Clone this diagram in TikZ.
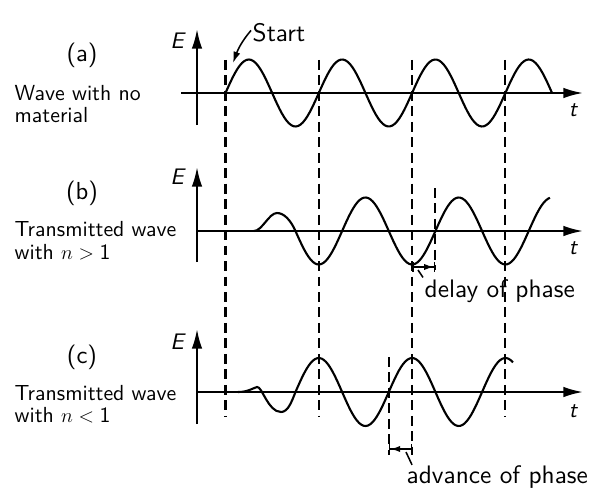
\documentclass[tikz,border=0pt]{standalone}
\usepackage{amsmath}
\usepackage{fontspec}
\setsansfont{lmsans10-regular.otf}[ItalicFont=lmsans10-oblique.otf]
\usepackage{tikz}
\usetikzlibrary{arrows.meta}
\usetikzlibrary{calc}

\begin{document}
\begin{tikzpicture}[x=0.025cm,y=-0.025cm,
      every node/.style={font=\sffamily\fontsize{15.5}{16}\selectfont,inner sep=1pt},
      wave/.style={line width=1.5pt},
      guide/.style={line width=1.5pt,dash pattern=on 7pt off 4pt},
      axis/.style={line width=1.5pt,-{Latex[length=14pt,width=7.5pt]}},
      pointer/.style={line width=1.1pt,-{Latex[length=8pt,width=5pt]}},
      gap/.style={line width=1.1pt,{Bar[width=7pt]}-{Latex[length=7pt,width=4.5pt] Bar[width=7pt]}},
      leader/.style={line width=1.1pt},
      panel/.style={font=\sffamily\fontsize{17.5}{20}\selectfont},
      desc/.style={anchor=base west,align=left},
      tag/.style={anchor=base west,font=\sffamily\fontsize{18}{20}\selectfont},
      axislabel/.style={font=\sffamily\itshape\fontsize{16}{18}\selectfont}]
      \useasboundingbox (0,0) rectangle (603,499);

      % left column
      \node[panel] (pa) at (82,55) {(a)};
      \node[desc] (da) at (13,122.5) {Wave with no\\material};
      \node[panel] (pb) at (82,193) {(b)};
      \node[desc] (db) at (13,259.3) {Transmitted wave\\with $n > \text{1}$};
      \node[panel] (pc) at (82,357) {(c)};
      \node[desc] (dc) at (13,422.7) {Transmitted wave\\with $n < \text{1}$};

      % axes
      \draw[axis] (197,125) -- (197,29);
      \draw[axis] (181,93) -- (583,93);
      \node[axislabel] (Ea) at (177,40.5) {E};
      \node[axislabel] (ta) at (573,110.5) {t};

      \draw[axis] (197,262) -- (197,167);
      \draw[axis] (197,231) -- (583,231);
      \node[axislabel] (Eb) at (177,177) {E};
      \node[axislabel] (tb) at (573,248.5) {t};

      \draw[axis] (197,424) -- (197,329);
      \draw[axis] (197,392) -- (583,392);
      \node[axislabel] (Ec) at (177,341.5) {E};
      \node[axislabel] (tc) at (573,411.5) {t};

      % dashed guides
      \draw[guide] (225.5,60) -- (225.5,417);
      \draw[guide] (318.8,60) -- (318.8,417);
      \draw[guide] (412.1,60) -- (412.1,455);
      \draw[guide] (505.4,60) -- (505.4,417);
      \draw[guide] (435.4,188) -- (435.4,270);
      \draw[guide] (388.8,357) -- (388.8,455);

      % waves
      \draw[wave] plot[domain=225.5:552,samples=140] (\x,{93-33.5*sin(360*((\x-225.5)/93.3))});
      \draw[wave] (254,231) .. controls (262,231) and (269,213) .. (277,213)
            .. controls (284,213) and (290.5,220) .. (295.5,231)
            -- plot[domain=295.5:550,samples=120] (\x,{231+33.5*cos(360*((\x-412.1)/93.3))});
      \draw[wave] (238,392) .. controls (248,392) and (252,388.5) .. (257,387)
            .. controls (262,386) and (268,412) .. (281,412)
            .. controls (288,412) and (291.5,402) .. (295.5,392)
            -- plot[domain=295.5:513,samples=100] (\x,{392-34*cos(360*((\x-318.8)/93.3))});

      % start marker
      \node[tag] (start) at (251,42) {Start};
      \coordinate (origin) at (233,63);
      \draw[pointer] ([yshift=2pt]start.west) to[out=230,in=70] (origin);

      % phase shifts
      \coordinate (dl) at (412.1,267);
      \coordinate (dr) at (435.4,267);
      \draw[gap] (dl) -- (dr);
      \node[tag] (delay) at (423,297) {delay of phase};
      \coordinate (dtick) at (418,270);
      \draw[leader] (dtick) -- (delay.north west);

      \coordinate (ar) at (412.1,449);
      \coordinate (al) at (388.8,449);
      \draw[gap] (ar) -- (al);
      \node[tag] (advance) at (405,483) {advance of phase};
      \coordinate (atick) at (406,452);
      \draw[leader] (atick) -- ([xshift=5pt,yshift=-1pt]advance.north west);
    \end{tikzpicture}
\end{document}
